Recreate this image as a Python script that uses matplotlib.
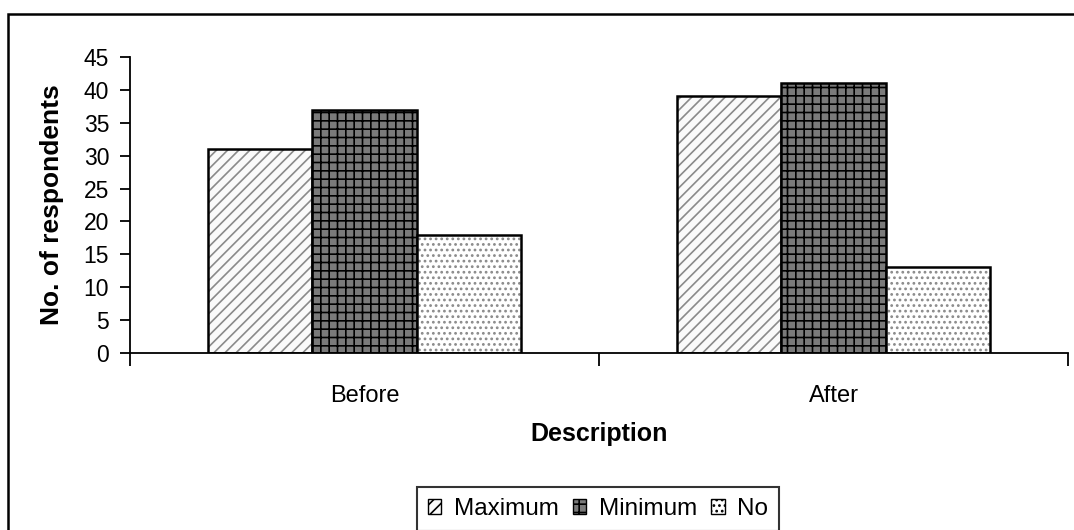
import matplotlib
matplotlib.use("Agg")
import matplotlib.pyplot as plt
import numpy as np
from matplotlib.patches import Rectangle, Patch

categories = ["Before", "After"]
series_names = ["Maximum", "Minimum", "No"]
maximum = [31, 39]
minimum = [37, 41]
no_vals = [18, 13]
yticks = [0, 5, 10, 15, 20, 25, 30, 35, 40, 45]

plt.rcParams['font.family'] = ['Liberation Sans', 'DejaVu Sans']
plt.rcParams['hatch.linewidth'] = 1.2

fig = plt.figure(figsize=(10.74, 5.30), dpi=100)
ax = fig.add_axes([130/1074, 1-353/530, 938/1074, 296/530])

x = np.arange(len(categories))
w = 0.222
styles = [
    dict(face="#fafafa", hatch="///", hcol="#8a8a8a"),
    dict(face="#7a7a7a", hatch="++", hcol="#000000"),
    dict(face="#ffffff", hatch="...", hcol="#8a8a8a"),
]
data = [maximum, minimum, no_vals]
handles = []
for i, (vals, st) in enumerate(zip(data, styles)):
    pos = x + (i - 1) * w
    ax.bar(pos, vals, w, color=st["face"], hatch=st["hatch"], edgecolor=st["hcol"], linewidth=0)
    ax.bar(pos, vals, w, fill=False, edgecolor="black", linewidth=1.8)
    handles.append(Patch(facecolor=st["face"], hatch=st["hatch"], edgecolor="black", linewidth=1.0,
                         label=series_names[i]))

ax.set_xlim(-0.5, 1.5)
ax.set_ylim(0, 45)
ax.set_yticks(yticks)
ax.set_xticks([-0.5, 0.5, 1.5])
ax.set_xticklabels([])
ax.set_xticks(x, minor=True)
ax.set_xticklabels(categories, minor=True)
ax.tick_params(axis='x', which='minor', length=0, pad=23, labelsize=17)
ax.tick_params(axis='x', which='major', length=9, direction='out', width=1.3)
ax.tick_params(axis='y', length=7, direction='out', width=1.3, labelsize=16.5, pad=8)
for s in ["top", "right"]:
    ax.spines[s].set_visible(False)
ax.spines["left"].set_linewidth(1.3)
ax.spines["bottom"].set_linewidth(1.3)

ax.set_xlabel("Description", fontsize=18, fontweight="bold", labelpad=11)
ax.set_ylabel("No. of respondents", fontsize=19, fontweight="bold", labelpad=14)

leg = fig.legend(handles=handles, loc="upper center", bbox_to_anchor=(598/1074, 1-487/530), ncol=3,
                 frameon=True, fancybox=False, edgecolor="black", fontsize=17.5,
                 handlelength=0.55, handleheight=0.55, handletextpad=0.5, columnspacing=0.6,
                 borderpad=0.45, borderaxespad=0)
leg.get_frame().set_linewidth(1.5)

fig.patches.append(Rectangle((8/1074, -0.1), 1.1, 1 - 14/530 + 0.1, transform=fig.transFigure,
                             fill=False, edgecolor="black", linewidth=1.8, clip_on=False))

fig.savefig("out.png", dpi=100)
